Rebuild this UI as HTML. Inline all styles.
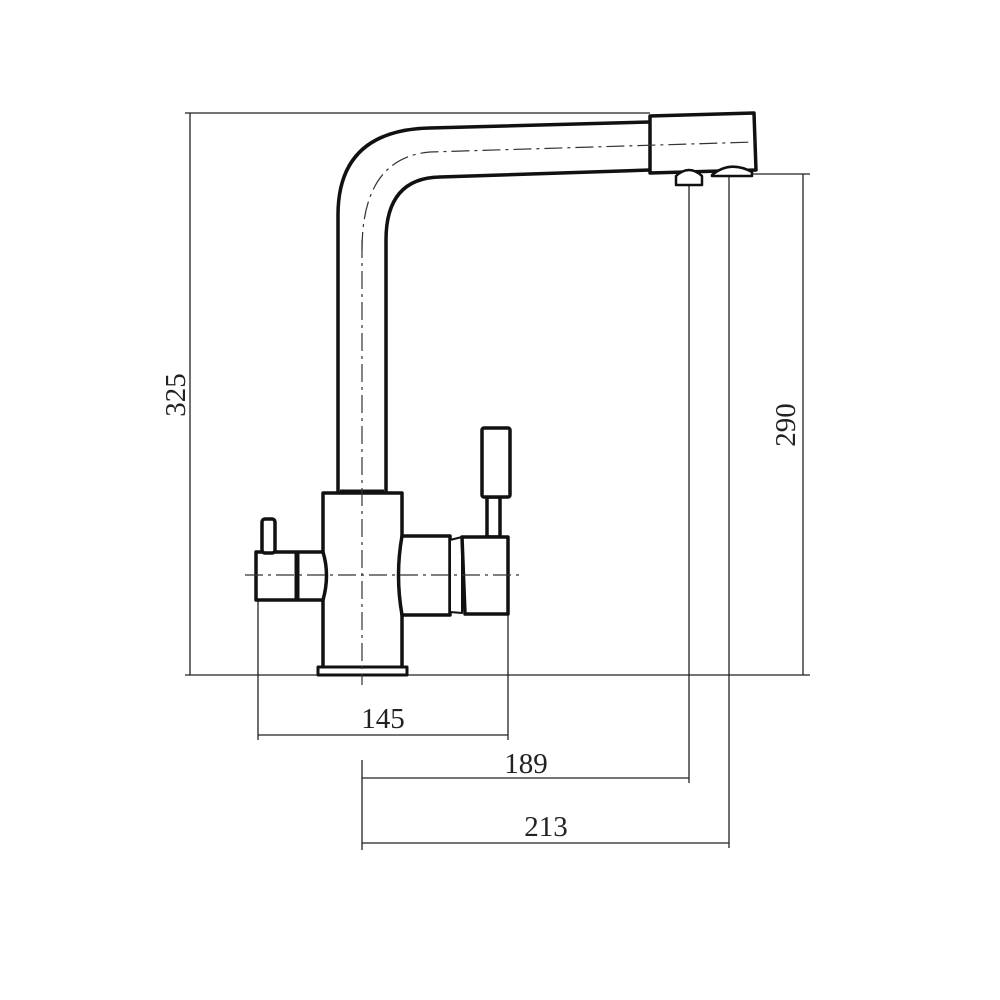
<!DOCTYPE html>
<html><head><style>body{margin:0;background:#fff}svg{display:block}</style></head><body>
<svg width="1000" height="1000" viewBox="0 0 1000 1000" xmlns="http://www.w3.org/2000/svg">
<rect width="1000" height="1000" fill="#fff"/>
<g stroke="#222" stroke-width="1.3" fill="none">
<line x1="185" y1="113" x2="650" y2="113"/>
<line x1="185" y1="675" x2="810" y2="675"/>
<line x1="190" y1="113" x2="190" y2="675"/>
<line x1="740" y1="174" x2="810" y2="174"/>
<line x1="803" y1="174" x2="803" y2="675"/>
<line x1="258" y1="600" x2="258" y2="740"/>
<line x1="508" y1="615" x2="508" y2="740"/>
<line x1="258" y1="735" x2="508" y2="735"/>
<line x1="362" y1="760" x2="362" y2="850"/>
<line x1="689" y1="185" x2="689" y2="783"/>
<line x1="362" y1="778" x2="689" y2="778"/>
<line x1="729" y1="176" x2="729" y2="848"/>
<line x1="362" y1="843" x2="729" y2="843"/>
</g>
<g stroke="#111" stroke-width="3.5" fill="#fff" stroke-linejoin="round">
<path d="M338 492 L338 215 Q338 130 430 128 L650 122" fill="none"/>
<path d="M386 492 L386 240 Q386 178 440 177 L650 170" fill="none"/>
<path d="M650 116 L754 113 L756 170 L650 173 Z"/>
<path d="M676 185 L676 176 Q689 164 702 176 L702 185 Z" stroke-width="2.5"/>
<path d="M712 175 Q730 160 752 172 L752 176 L712 176 Z" stroke-width="2.5"/>
<rect x="323" y="493" width="79" height="175"/>
<rect x="318" y="667" width="89" height="8" stroke-width="3"/>
<line x1="340" y1="492" x2="384" y2="492" stroke-width="5"/>
<path d="M256 552 L323 552 Q330 575 323 600 L256 600 Z"/>
<line x1="297" y1="552" x2="297" y2="600" stroke-width="5"/>
<rect x="262" y="519" width="13" height="34" rx="3"/>
<path d="M402 536 L450 536 L450 615 L402 615 Q395 575 402 536 Z"/>
<path d="M450 540 L462 537 L462 613 L450 612 Z" stroke-width="2"/>
<rect x="487" y="497" width="13" height="40"/>
<rect x="482" y="428" width="28" height="69" rx="2"/>
<path d="M462 537 L508 537 L508 614 L465 614 Z"/>
</g>
<g stroke="#333" stroke-width="1.2" fill="none" stroke-dasharray="18,5,3,5">
<line x1="362" y1="240" x2="362" y2="685"/>
<path d="M362 250 Q362 158 430 152 L755 142"/>
<line x1="245" y1="575" x2="522" y2="575"/>
</g>
<g font-family="Liberation Serif, serif" font-size="29" fill="#222">
<text x="383" y="728" text-anchor="middle">145</text>
<text x="526" y="773" text-anchor="middle">189</text>
<text x="546" y="836" text-anchor="middle">213</text>
<text transform="translate(795,425) rotate(-90)" text-anchor="middle">290</text>
<text transform="translate(185,395) rotate(-90)" text-anchor="middle">325</text>
</g>
</svg>
</body></html>
